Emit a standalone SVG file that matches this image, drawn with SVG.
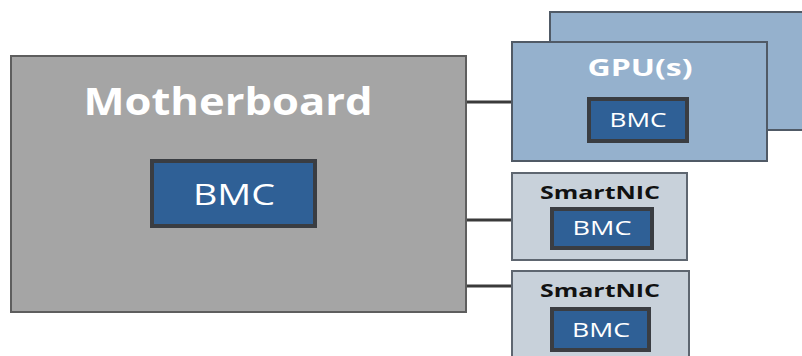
<svg xmlns="http://www.w3.org/2000/svg" width="802" height="356" viewBox="0 0 802 356">
<style>
.bmc{fill:#2f6096;stroke:#3a3d42;stroke-width:4}
.bt{fill:#ffffff;font-family:"Open Sans","DejaVu Sans",sans-serif;text-anchor:middle}
.title{font-family:"Open Sans","DejaVu Sans",sans-serif;font-weight:bold;text-anchor:middle}
.conn{stroke:#3a3a3a;stroke-width:3;fill:none}
</style>
<rect width="802" height="356" fill="#ffffff"/>
<g id="gpu-back">
<rect x="550" y="12" width="260" height="118" fill="#95b1cd" stroke="#505a66" stroke-width="2"/>
</g>
<g id="connectors">
<line class="conn" x1="466" y1="102" x2="512" y2="102"/>
<line class="conn" x1="466" y1="220" x2="512" y2="220"/>
<line class="conn" x1="466" y1="286" x2="512" y2="286"/>
</g>
<g id="motherboard">
<rect x="11" y="56" width="455" height="256" fill="#a5a5a5" stroke="#5e5e5e" stroke-width="2"/>
<text class="title" x="228" y="115" font-size="38" fill="#ffffff" textLength="289" lengthAdjust="spacingAndGlyphs">Motherboard</text>
<rect class="bmc" x="152" y="161" width="163" height="65"/>
<text class="bt" x="234" y="205" font-size="30" textLength="82" lengthAdjust="spacingAndGlyphs">BMC</text>
</g>
<g id="gpu">
<rect x="512" y="42" width="255" height="119" fill="#95b1cd" stroke="#505a66" stroke-width="2"/>
<text class="title" x="640" y="76" font-size="23" fill="#ffffff" textLength="105" lengthAdjust="spacingAndGlyphs">GPU(s)</text>
<rect class="bmc" x="589" y="99" width="98" height="42"/>
<text class="bt" x="638" y="127" font-size="20" textLength="57" lengthAdjust="spacingAndGlyphs">BMC</text>
</g>
<g id="smartnic1">
<rect x="512" y="173" width="175" height="87" fill="#c8d1da" stroke="#5e6670" stroke-width="2"/>
<text class="title" x="600" y="199" font-size="18" fill="#111111" textLength="120" lengthAdjust="spacingAndGlyphs">SmartNIC</text>
<rect class="bmc" x="552" y="209" width="100" height="39"/>
<text class="bt" x="602" y="235" font-size="20" textLength="59" lengthAdjust="spacingAndGlyphs">BMC</text>
</g>
<g id="smartnic2">
<rect x="512" y="271" width="177" height="95" fill="#c8d1da" stroke="#5e6670" stroke-width="2"/>
<text class="title" x="600" y="297" font-size="18" fill="#111111" textLength="120" lengthAdjust="spacingAndGlyphs">SmartNIC</text>
<rect class="bmc" x="552" y="309" width="97" height="41"/>
<text class="bt" x="601" y="337" font-size="20" textLength="58" lengthAdjust="spacingAndGlyphs">BMC</text>
</g>
</svg>
